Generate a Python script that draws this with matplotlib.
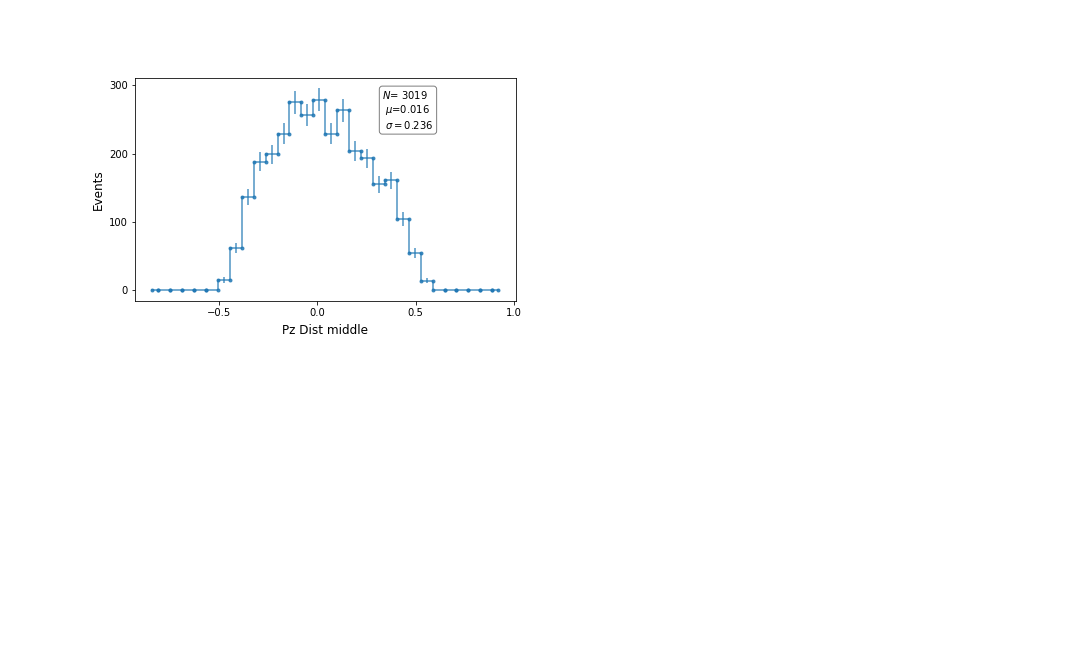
import numpy as np
import matplotlib
matplotlib.use("Agg")
import matplotlib.pyplot as plt

# histogram layout (30 bins)
lo_edge, hi_edge, n_bins = -0.8685, 0.9488, 30

# events per bin
counts = np.array([0, 0, 0, 0, 0, 0, 15, 62, 137, 188,
                   199, 229, 275, 257, 279, 229, 263, 204, 193, 155,
                   161, 105, 54, 14, 0, 0, 0, 0, 0, 0])

stats_text = "$N$= 3019\n $\\mu$=0.016\n $\\sigma=0.236$"

edges = np.linspace(lo_edge, hi_edge, n_bins + 1)
centers = 0.5 * (edges[1:] + edges[:-1])

# steps-mid vertices (markers sit on every vertex, like old matplotlib)
inner = edges[1:-1]
step_x = np.concatenate([[centers[0]], np.repeat(inner, 2), [centers[-1]]])
step_y = np.repeat(counts, 2)

fig = plt.figure(figsize=(15, 9), dpi=72)
ax = fig.add_axes([135 / 1080, 1 - 300.5 / 648, 380.5 / 1080, 222.5 / 648])

ax.plot(step_x, step_y, marker='.', color='C0', alpha=0.8)
ax.errorbar(centers, counts, yerr=np.sqrt(counts), fmt='none',
            ecolor='C0', alpha=0.8)

props = dict(boxstyle='round', facecolor='white', alpha=0.5)
ax.text(0.65, 0.95, stats_text, transform=ax.transAxes, fontsize=10,
        verticalalignment='top', bbox=props)

ax.set_xticks([-0.5, 0.0, 0.5, 1.0])
ax.set_yticks([0, 100, 200, 300])
ax.set_xlabel('Pz Dist middle', fontsize=12, labelpad=7)
ax.set_ylabel('Events', fontsize=12)

fig.savefig('out.png', dpi=72)
